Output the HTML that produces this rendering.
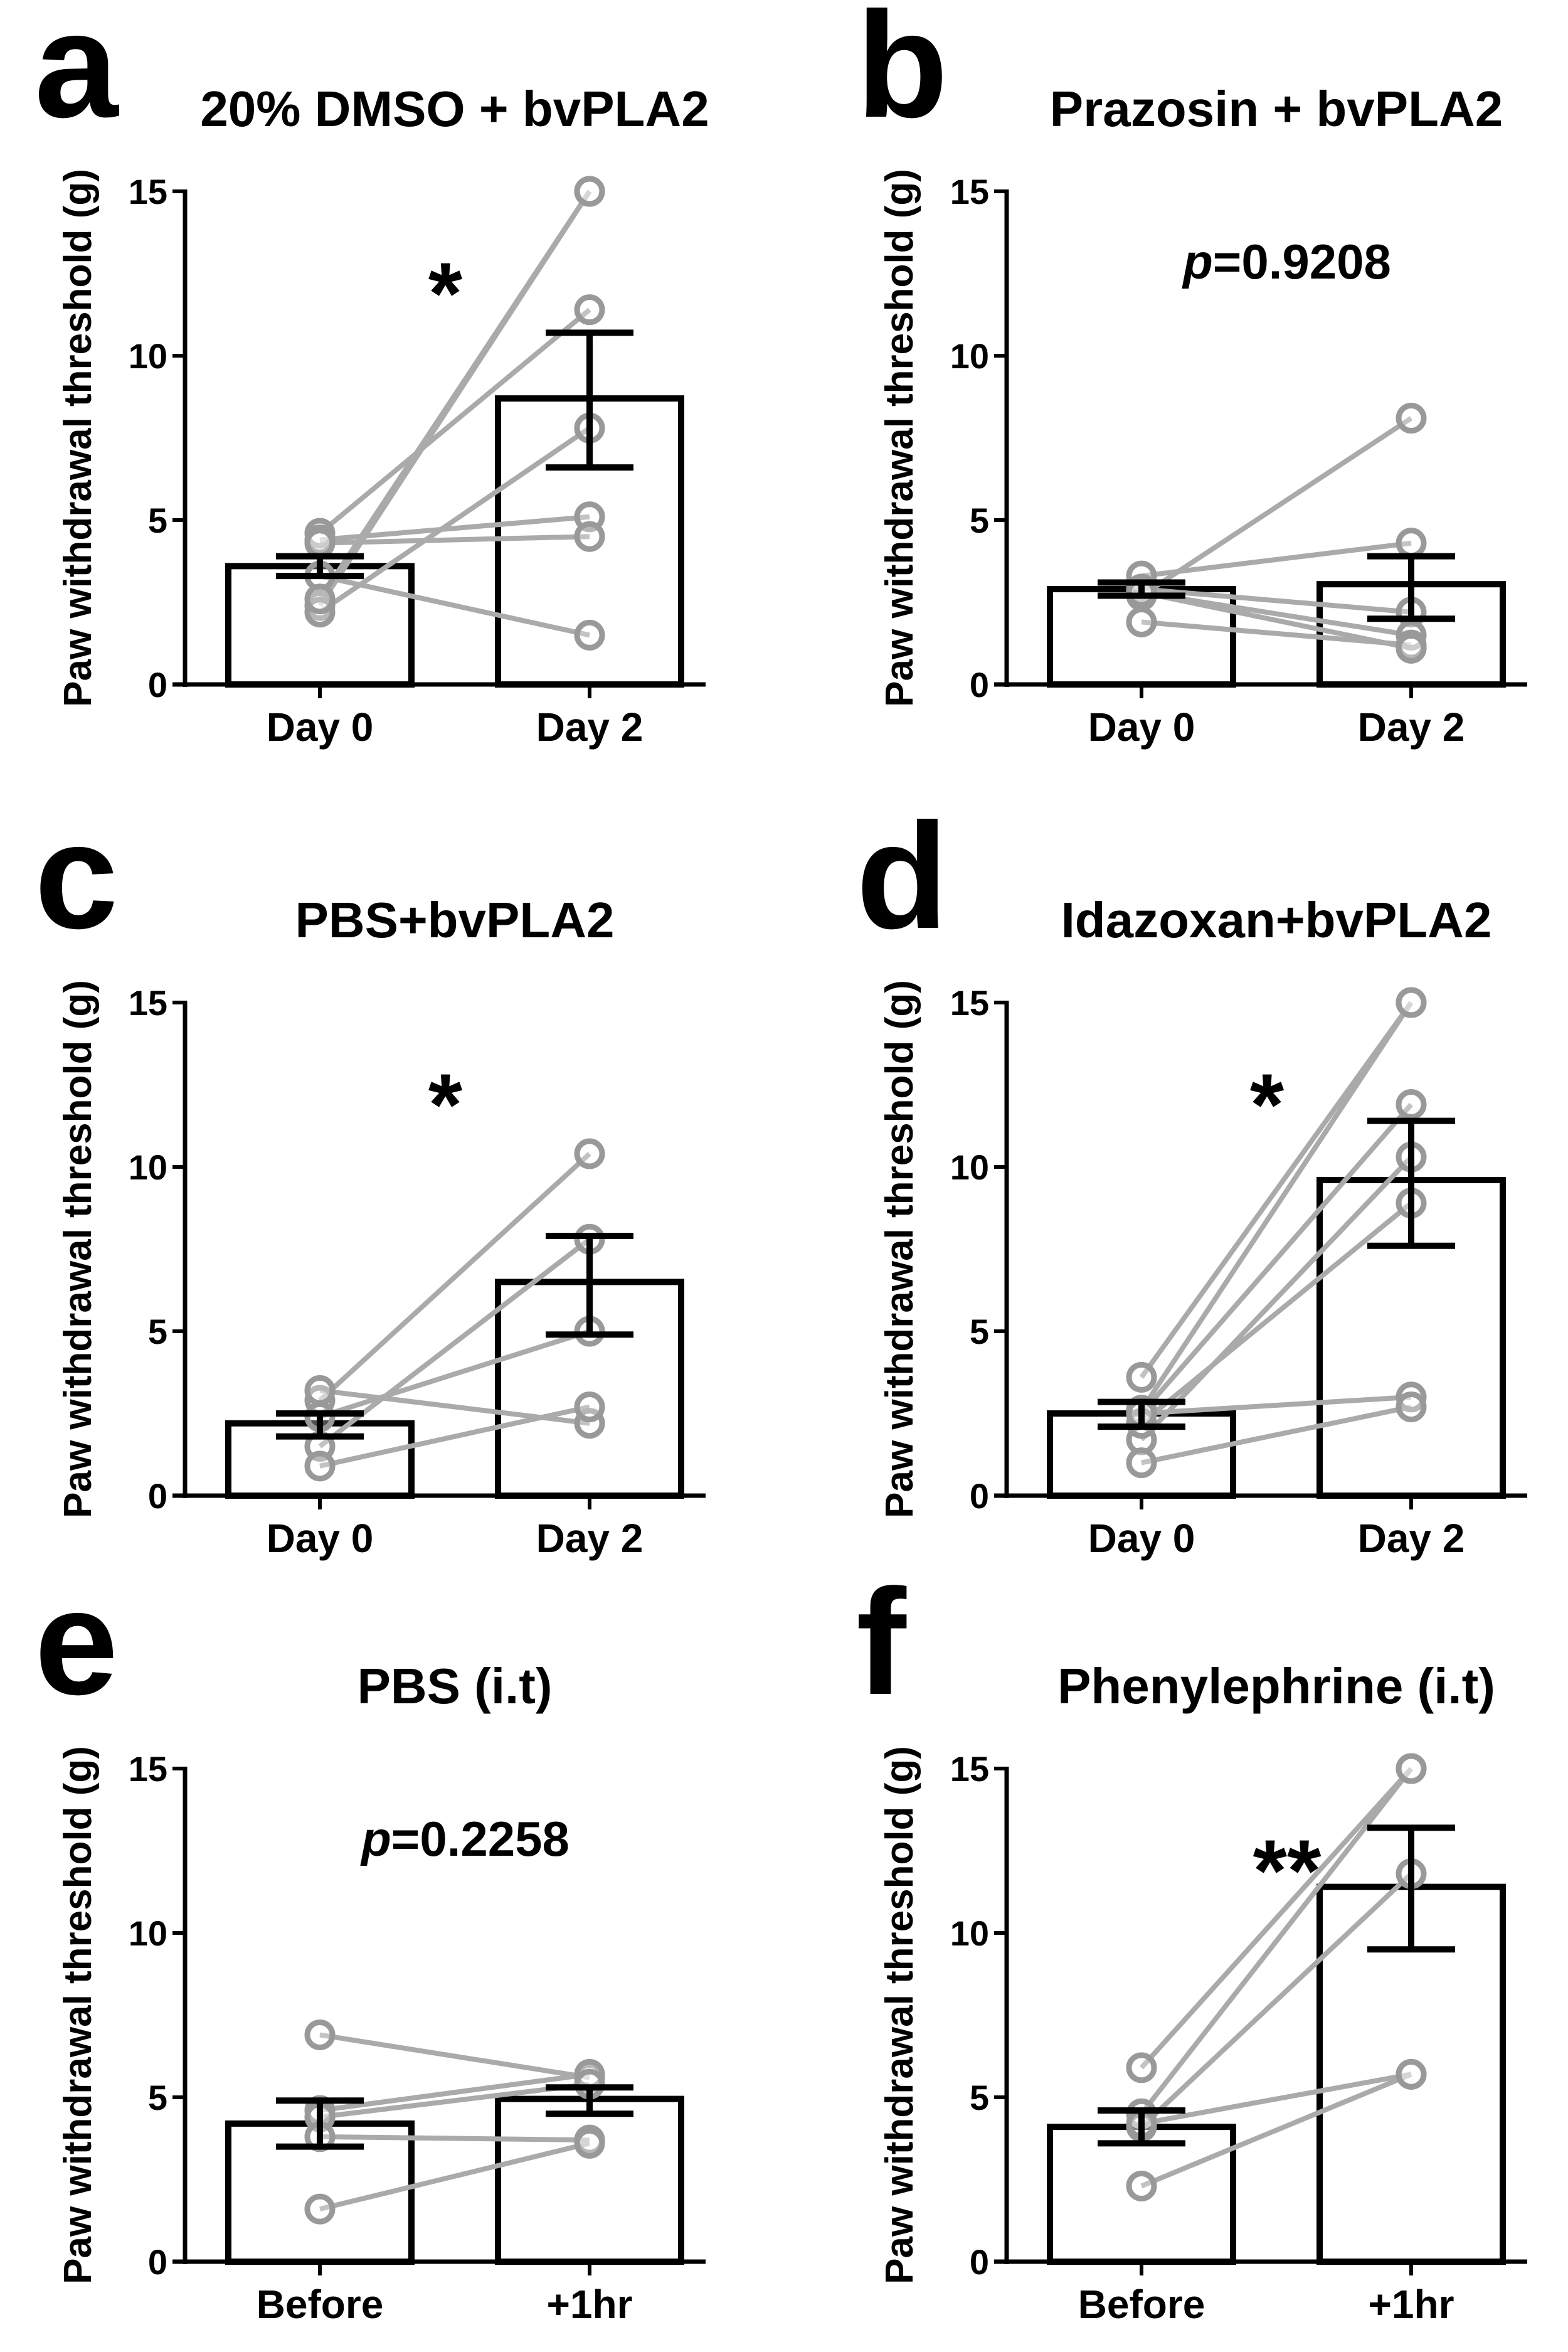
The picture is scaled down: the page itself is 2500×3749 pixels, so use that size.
<!DOCTYPE html>
<html><head><meta charset="utf-8">
<style>
html,body{margin:0;padding:0;background:#fff;}
svg{display:block;font-family:"Liberation Sans",sans-serif;font-weight:bold;}
</style></head>
<body>
<svg id="fig" width="2500" height="3749" viewBox="0 0 2500 3749" xmlns="http://www.w3.org/2000/svg"></svg>
<script>
const panelLetters = ["a","b","c","d","e","f"];
const panelTitles = ["20% DMSO + bvPLA2","Prazosin + bvPLA2","PBS+bvPLA2","Idazoxan+bvPLA2","PBS (i.t)","Phenylephrine (i.t)"];
const categoriesDay = ["Day 0","Day 2"];
const categoriesTime = ["Before","+1hr"];
const yTicks = [0,5,10,15];
const annotations = ["*","p=0.9208","*","*","p=0.2258","**"];
const barMeans = [[3.6,8.7],[2.9,3.05],[2.2,6.5],[2.5,9.6],[4.2,4.95],[4.1,11.4]];
const barLow = [[3.3,6.6],[2.7,2.0],[1.8,4.9],[2.1,7.6],[3.5,4.5],[3.6,9.5]];
const barHigh = [[3.9,10.7],[3.1,3.9],[2.5,7.9],[2.85,11.4],[4.9,5.3],[4.6,13.2]];
const pairsStart = [[2.4,4.6,2.2,4.4,4.3,3.3,2.6],[2.7,3.3,2.9,2.8,1.9,2.8],[2.9,1.5,2.4,3.2,0.9],[2.6,3.6,2.5,1.7,2.2,2.5,1.0],[6.9,4.6,4.4,3.8,1.6],[5.9,4.5,4.1,4.2,2.3]];
const pairsEnd = [[15,11.4,7.8,5.1,4.5,1.5,15],[8.1,4.3,2.2,1.5,1.2,1.1],[10.4,7.8,5.0,2.2,2.7],[15,15,11.9,10.3,8.9,3.0,2.7],[5.6,5.7,5.4,3.7,3.6],[15,15,11.8,5.7,5.7]];

const NS="http://www.w3.org/2000/svg";
const svg=document.getElementById('fig');
function mk(tag,attrs,parent){const e=document.createElementNS(NS,tag);for(const k in attrs)e.setAttribute(k,attrs[k]);(parent||svg).appendChild(e);return e;}
const colX=[295,1605], rowY0=[1091,2384,3605];
const K=786/15;
for(let p=0;p<6;p++){
  const ax=colX[p%2], y0=rowY0[Math.floor(p/2)];
  const yS=v=>y0-v*K;
  const xC=i=>ax+215+i*430;
  const g=mk('g',{});
  
  
  const L=mk('text',{x:ax-240,y:y0-905,'font-size':240},g);L.textContent=panelLetters[p];
  
  
  const T=mk('text',{x:ax+430,y:y0-890,'font-size':80,'text-anchor':'middle'},g);T.textContent=panelTitles[p];
  
  
  const YL=mk('text',{x:0,y:0,'font-size':62,'text-anchor':'middle',transform:`translate(${ax-150},${y0-393}) rotate(-90)`},g);YL.textContent="Paw withdrawal threshold (g)";
  
  
  for(let i=0;i<2;i++){
    const b=mk('rect',{x:xC(i)-146,y:yS(barMeans[p][i]),width:292,height:barMeans[p][i]*K,fill:'#fff',stroke:'#000','stroke-width':10},g);
    
    
  }
  for(let j=0;j<pairsStart[p].length;j++){
    const ln=mk('line',{x1:xC(0),y1:yS(pairsStart[p][j]),x2:xC(1),y2:yS(pairsEnd[p][j]),stroke:'#aaa','stroke-width':8},g);
    
    
  }
  for(let j=0;j<pairsStart[p].length;j++){
    [[0,pairsStart[p][j]],[1,pairsEnd[p][j]]].forEach(([i,v])=>{
      const c=mk('circle',{cx:xC(i),cy:yS(v),r:20,fill:'#fff','fill-opacity':0.3,stroke:'#999','stroke-width':9},g);
      
      
    });
  }
  for(let i=0;i<2;i++){
    const eg=mk('g',{stroke:'#000','stroke-width':10},g);
    
    
    mk('line',{x1:xC(i),x2:xC(i),y1:yS(barLow[p][i]),y2:yS(barHigh[p][i])},eg);
    mk('line',{x1:xC(i)-70,x2:xC(i)+70,y1:yS(barLow[p][i]),y2:yS(barLow[p][i])},eg);
    mk('line',{x1:xC(i)-70,x2:xC(i)+70,y1:yS(barHigh[p][i]),y2:yS(barHigh[p][i])},eg);
  }
  const ya=mk('line',{x1:ax,x2:ax,y1:yS(15)-3,y2:y0+4,stroke:'#000','stroke-width':7},g);
  
  
  const xa=mk('line',{x1:ax-20,x2:ax+830,y1:y0,y2:y0,stroke:'#000','stroke-width':7},g);
  
  
  yTicks.forEach(t=>{
    mk('line',{x1:ax-20,x2:ax,y1:yS(t),y2:yS(t),stroke:'#000','stroke-width':6},g);
    const tl=mk('text',{x:ax-28,y:yS(t)+20,'font-size':56,'text-anchor':'end'},g);tl.textContent=t;
    
    
  });
  const cats=p<4?categoriesDay:categoriesTime;
  for(let i=0;i<2;i++){
    mk('line',{x1:xC(i),x2:xC(i),y1:y0,y2:y0+22,stroke:'#000','stroke-width':6},g);
    const xl=mk('text',{x:xC(i),y:y0+90,'font-size':64,'text-anchor':'middle'},g);xl.textContent=cats[i];
    
    
  }
  const a=annotations[p];
  let an;
  if(a.startsWith('p=')){
    an=mk('text',{x:ax+447,y:y0-647,'font-size':78,'text-anchor':'middle'},g);
    const ip=mk('tspan',{'font-style':'italic'},an);ip.textContent='p';
    const rest=mk('tspan',{},an);rest.textContent=a.slice(1);
  } else {
    an=mk('text',{x:a.length===2?ax+447:ax+415,y:y0-575,'font-size':140,'text-anchor':'middle'},g);an.textContent=a;
  }
  
  
}
</script>
</body></html>
